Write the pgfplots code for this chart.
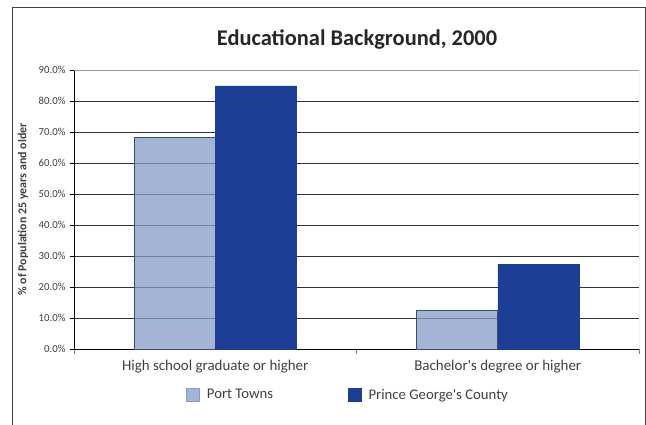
\documentclass[border=0pt]{standalone}
\usepackage{pgfplots}
\pgfplotsset{compat=1.18}
\usepackage{fontspec}
\setmainfont{Carlito}
\definecolor{ptbar}{HTML}{869BC7}
\definecolor{ptedge}{HTML}{3F4C6B}
\definecolor{pgbar}{HTML}{1C3E94}
\definecolor{txt}{HTML}{404040}
\definecolor{gridc}{HTML}{333333}
\begin{document}
\begin{tikzpicture}[x=1bp,y=1bp]
\useasboundingbox (-74bp,-76bp) rectangle (572bp,349bp);
\draw[line width=1bp, black!75] (-61bp,-90bp) -- (-61bp,341bp) -- (571bp,341bp) -- (571bp,-90bp);
\begin{axis}[
  at={(0,0)}, anchor=south west,
  scale only axis, width=565bp, height=279bp,
  /pgf/number format/assume math mode=true,
  ybar=0pt, bar width=81bp,
  xmin=-0.5, xmax=1.5, ymin=0, ymax=90,
  axis x line*=bottom, axis y line*=left,
  axis line style={black, line width=0.8bp, -},
  xtick={0,1},
  xticklabels={High school graduate or higher, Bachelor\textquotesingle s degree or higher},
  major x tick style={draw=none},
  minor xtick={-0.5,0.5,1.5},
  minor x tick style={gray, line width=0.8bp},
  minor tick length=5bp,
  ytick={0,10,...,90},
  yticklabel={\pgfmathprintnumber[fixed,fixed zerofill,precision=1]{\tick}\%},
  major y tick style={black, line width=0.8bp},
  major tick length=4bp,
  tick align=outside,
  ymajorgrids,
  major grid style={gridc, line width=0.8bp},
  yticklabel style={font=\fontsize{10.8}{12}\selectfont, text=txt, xshift=-1bp},
  xticklabel style={font=\fontsize{15}{17}\selectfont, text=txt, yshift=-4bp},
  ylabel={\textbf{\% of Population 25 years and older}},
  every axis y label/.style={at={(-51bp,139.5bp)}, rotate=90, anchor=center,
    font=\fontsize{12}{14}\selectfont, text=txt},
  legend style={at={(274bp,-46bp)}, anchor=center, draw=none, fill=none,
    font=\fontsize{14.8}{17}\selectfont, text=txt,
    legend columns=2,
    /tikz/every even column/.append style={column sep=73bp},
    /tikz/every odd column/.append style={column sep=5bp}},
  legend cell align=left,
]
\addplot[fill=ptbar, fill opacity=0.75, draw=ptedge, line width=0.8bp,
  legend image code/.code={\fill[ptbar] (0bp,-6.5bp) rectangle (13bp,6.5bp);}]
  coordinates {(0,68.1) (1,12.4)};
\addlegendentry{Port Towns}
\addplot[fill=pgbar, draw=pgbar, line width=0.5bp,
  legend image code/.code={\fill[pgbar] (0bp,-6.5bp) rectangle (13bp,6.5bp);}]
  coordinates {(0,84.9) (1,27.3)};
\addlegendentry{Prince George\textquotesingle s County}
\draw[gray!80, line width=0.8bp] (rel axis cs:0,1) -- (rel axis cs:1,1) -- (rel axis cs:1,0);
\end{axis}
\node[anchor=base, font=\fontsize{22.5}{25}\selectfont\bfseries, text=black!85] at (283bp,303bp) {Educational Background, 2000};
\end{tikzpicture}
\end{document}
